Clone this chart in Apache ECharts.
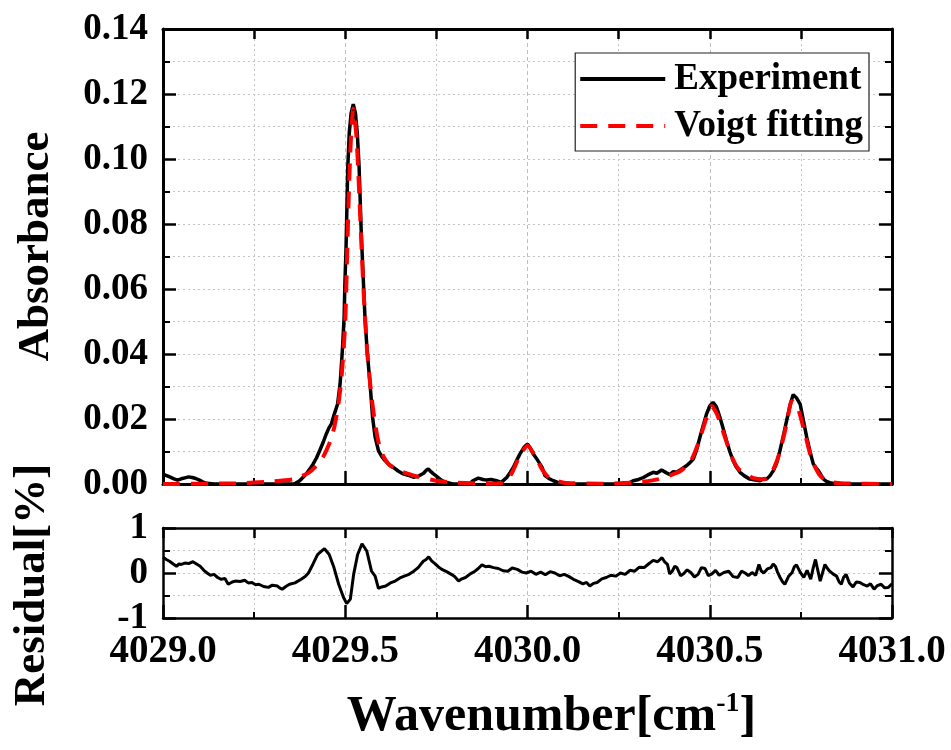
<!DOCTYPE html>
<html>
<head>
<meta charset="utf-8">
<script src="https://cdn.jsdelivr.net/npm/echarts@6/dist/echarts.min.js"></script>
<style>
html, body { margin: 0; padding: 0; background: #fff; }
#echarts { width: 951px; height: 750px; }
</style>
</head>
<body>
<div id="echarts"></div>
<script>
// measured spectrum [wavenumber, absorbance]
var experiment = [
    [4029.000, 0.0030], [4029.010, 0.0026], [4029.020, 0.0021], [4029.030, 0.0016], [4029.040, 0.0012],
    [4029.050, 0.0016], [4029.060, 0.0019], [4029.070, 0.0022], [4029.080, 0.0020], [4029.090, 0.0017],
    [4029.100, 0.0012], [4029.110, 0.0006], [4029.120, 0.0002], [4029.140, 0.0000], [4029.360, 0.0000],
    [4029.375, 0.0010], [4029.393, 0.0031], [4029.402, 0.0045], [4029.412, 0.0062], [4029.421, 0.0080],
    [4029.430, 0.0103], [4029.440, 0.0130], [4029.448, 0.0154], [4029.455, 0.0172], [4029.462, 0.0185],
    [4029.470, 0.0215], [4029.479, 0.0246], [4029.486, 0.0310], [4029.492, 0.0410], [4029.497, 0.0515],
    [4029.499, 0.0617], [4029.502, 0.0720], [4029.505, 0.0874], [4029.507, 0.0976], [4029.511, 0.1080],
    [4029.516, 0.1140], [4029.522, 0.1169], [4029.528, 0.1140], [4029.533, 0.1080], [4029.538, 0.0976],
    [4029.541, 0.0874], [4029.544, 0.0770], [4029.546, 0.0720], [4029.550, 0.0617], [4029.554, 0.0515],
    [4029.560, 0.0410], [4029.568, 0.0310], [4029.575, 0.0205], [4029.582, 0.0144], [4029.591, 0.0103],
    [4029.600, 0.0085], [4029.609, 0.0072], [4029.620, 0.0060], [4029.632, 0.0051], [4029.645, 0.0040],
    [4029.659, 0.0031], [4029.672, 0.0027], [4029.687, 0.0021], [4029.700, 0.0024], [4029.715, 0.0033],
    [4029.722, 0.0042], [4029.728, 0.0046], [4029.735, 0.0038], [4029.742, 0.0031], [4029.750, 0.0024],
    [4029.760, 0.0015], [4029.770, 0.0008], [4029.778, 0.0005], [4029.795, 0.0000], [4029.840, 0.0000],
    [4029.850, 0.0010], [4029.865, 0.0018], [4029.878, 0.0014], [4029.888, 0.0012], [4029.900, 0.0014],
    [4029.915, 0.0010], [4029.928, 0.0005], [4029.935, 0.0012], [4029.943, 0.0020], [4029.952, 0.0035],
    [4029.961, 0.0051], [4029.970, 0.0072], [4029.979, 0.0092], [4029.990, 0.0112], [4030.000, 0.0123],
    [4030.008, 0.0110], [4030.016, 0.0092], [4030.025, 0.0078], [4030.034, 0.0062], [4030.040, 0.0051],
    [4030.048, 0.0026], [4030.060, 0.0016], [4030.071, 0.0010], [4030.085, 0.0004], [4030.098, 0.0000],
    [4030.272, 0.0000], [4030.290, 0.0010], [4030.305, 0.0014], [4030.318, 0.0020], [4030.330, 0.0028],
    [4030.345, 0.0036], [4030.355, 0.0033], [4030.368, 0.0043], [4030.380, 0.0035], [4030.391, 0.0029],
    [4030.400, 0.0038], [4030.409, 0.0036], [4030.420, 0.0044], [4030.436, 0.0056], [4030.445, 0.0065],
    [4030.455, 0.0077], [4030.464, 0.0105], [4030.473, 0.0144], [4030.482, 0.0180], [4030.491, 0.0215],
    [4030.500, 0.0240], [4030.509, 0.0251], [4030.518, 0.0238], [4030.528, 0.0205], [4030.537, 0.0170],
    [4030.546, 0.0133], [4030.555, 0.0100], [4030.564, 0.0072], [4030.573, 0.0052], [4030.583, 0.0036],
    [4030.595, 0.0025], [4030.610, 0.0015], [4030.625, 0.0012], [4030.638, 0.0010], [4030.648, 0.0016],
    [4030.656, 0.0015], [4030.665, 0.0025], [4030.675, 0.0042], [4030.683, 0.0062], [4030.692, 0.0100],
    [4030.701, 0.0144], [4030.708, 0.0180], [4030.715, 0.0215], [4030.722, 0.0250], [4030.729, 0.0275],
    [4030.738, 0.0265], [4030.748, 0.0246], [4030.757, 0.0195], [4030.766, 0.0144], [4030.775, 0.0100],
    [4030.784, 0.0062], [4030.791, 0.0050], [4030.798, 0.0041], [4030.805, 0.0028], [4030.812, 0.0015],
    [4030.820, 0.0008], [4030.830, 0.0004], [4030.848, 0.0000], [4031.000, 0.0000]
];

// Voigt fit [wavenumber, absorbance]
var voigt = [
    [4029.000, 0.0000], [4029.200, 0.0002], [4029.300, 0.0008], [4029.360, 0.0015], [4029.400, 0.0035],
    [4029.420, 0.0055], [4029.440, 0.0085], [4029.460, 0.0135], [4029.470, 0.0175], [4029.480, 0.0235],
    [4029.490, 0.0330], [4029.500, 0.0500], [4029.505, 0.0700], [4029.510, 0.0900], [4029.515, 0.1050],
    [4029.522, 0.1155], [4029.530, 0.1080], [4029.535, 0.0980], [4029.540, 0.0850], [4029.545, 0.0720],
    [4029.550, 0.0600], [4029.555, 0.0500], [4029.560, 0.0410], [4029.570, 0.0290], [4029.580, 0.0200],
    [4029.590, 0.0135], [4029.600, 0.0095], [4029.620, 0.0060], [4029.650, 0.0040], [4029.700, 0.0022],
    [4029.750, 0.0010], [4029.800, 0.0004], [4029.900, 0.0001], [4029.940, 0.0006], [4029.960, 0.0040],
    [4029.980, 0.0090], [4030.000, 0.0118], [4030.020, 0.0088], [4030.040, 0.0045], [4030.060, 0.0018],
    [4030.100, 0.0004], [4030.200, 0.0001], [4030.300, 0.0005], [4030.360, 0.0015], [4030.420, 0.0040],
    [4030.450, 0.0075], [4030.470, 0.0130], [4030.490, 0.0200], [4030.505, 0.0240], [4030.520, 0.0215],
    [4030.540, 0.0150], [4030.560, 0.0085], [4030.580, 0.0045], [4030.620, 0.0018], [4030.650, 0.0015],
    [4030.670, 0.0035], [4030.690, 0.0090], [4030.710, 0.0180], [4030.725, 0.0255], [4030.740, 0.0240],
    [4030.760, 0.0160], [4030.780, 0.0075], [4030.800, 0.0030], [4030.820, 0.0010], [4030.860, 0.0002],
    [4031.000, 0.0000]
];

// residual [%] as [wavenumber, value]
var residual = [
    [4029.000, 0.35], [4029.009, 0.30], [4029.018, 0.26], [4029.028, 0.20], [4029.037, 0.15], [4029.044, 0.20],
    [4029.050, 0.19], [4029.060, 0.22], [4029.070, 0.21], [4029.082, 0.25], [4029.092, 0.20], [4029.102, 0.15],
    [4029.112, 0.06], [4029.121, 0.00], [4029.130, -0.05], [4029.140, -0.03], [4029.150, -0.10], [4029.160, -0.14],
    [4029.170, -0.12], [4029.179, -0.25], [4029.190, -0.20], [4029.198, -0.18], [4029.212, -0.19], [4029.224, -0.16],
    [4029.234, -0.22], [4029.244, -0.21], [4029.254, -0.26], [4029.263, -0.25], [4029.276, -0.30], [4029.289, -0.32],
    [4029.300, -0.27], [4029.314, -0.29], [4029.320, -0.33], [4029.327, -0.36], [4029.337, -0.30], [4029.347, -0.25],
    [4029.362, -0.22], [4029.379, -0.14], [4029.390, -0.08], [4029.399, 0.00], [4029.411, 0.19], [4029.424, 0.41],
    [4029.434, 0.48], [4029.443, 0.54], [4029.456, 0.41], [4029.469, 0.12], [4029.482, -0.25], [4029.495, -0.54],
    [4029.504, -0.68], [4029.514, -0.58], [4029.523, -0.03], [4029.534, 0.41], [4029.546, 0.65], [4029.559, 0.49],
    [4029.572, 0.04], [4029.582, -0.07], [4029.591, -0.34], [4029.600, -0.31], [4029.611, -0.29], [4029.624, -0.22],
    [4029.637, -0.18], [4029.650, -0.11], [4029.662, -0.07], [4029.675, -0.03], [4029.688, 0.04], [4029.700, 0.12],
    [4029.714, 0.26], [4029.722, 0.30], [4029.729, 0.36], [4029.737, 0.27], [4029.746, 0.21], [4029.755, 0.14],
    [4029.765, 0.08], [4029.778, 0.03], [4029.791, -0.03], [4029.800, -0.08], [4029.811, -0.18], [4029.820, -0.13],
    [4029.830, -0.10], [4029.843, -0.02], [4029.856, 0.04], [4029.865, 0.10], [4029.875, 0.18], [4029.885, 0.14],
    [4029.894, 0.15], [4029.907, 0.12], [4029.920, 0.10], [4029.933, 0.05], [4029.946, 0.04], [4029.958, 0.11],
    [4029.972, 0.08], [4029.985, 0.02], [4029.997, 0.00], [4030.010, 0.04], [4030.023, -0.03], [4030.036, 0.02],
    [4030.049, -0.04], [4030.062, 0.03], [4030.075, 0.00], [4030.088, -0.06], [4030.101, -0.03], [4030.114, -0.08],
    [4030.126, -0.14], [4030.140, -0.19], [4030.152, -0.24], [4030.162, -0.21], [4030.171, -0.29], [4030.181, -0.23],
    [4030.191, -0.21], [4030.204, -0.13], [4030.216, -0.10], [4030.229, -0.05], [4030.242, -0.07], [4030.255, 0.00],
    [4030.268, -0.03], [4030.281, 0.06], [4030.294, 0.04], [4030.307, 0.13], [4030.320, 0.12], [4030.332, 0.20],
    [4030.345, 0.28], [4030.357, 0.25], [4030.369, 0.34], [4030.377, 0.24], [4030.384, 0.19], [4030.390, -0.02],
    [4030.397, 0.04], [4030.404, 0.15], [4030.410, 0.12], [4030.420, -0.06], [4030.429, -0.01], [4030.438, 0.07],
    [4030.448, 0.01], [4030.458, -0.09], [4030.468, -0.03], [4030.477, 0.12], [4030.487, 0.10], [4030.496, -0.06],
    [4030.506, -0.02], [4030.516, 0.06], [4030.526, -0.05], [4030.539, 0.01], [4030.552, 0.04], [4030.564, -0.08],
    [4030.577, -0.10], [4030.587, 0.04], [4030.597, 0.00], [4030.606, -0.06], [4030.616, 0.01], [4030.626, -0.05],
    [4030.635, 0.19], [4030.641, 0.05], [4030.648, 0.00], [4030.658, 0.09], [4030.668, 0.12], [4030.674, 0.20],
    [4030.680, 0.15], [4030.686, 0.02], [4030.693, -0.10], [4030.700, -0.20], [4030.706, -0.25], [4030.716, -0.08],
    [4030.726, 0.01], [4030.732, 0.14], [4030.738, 0.18], [4030.748, 0.02], [4030.758, -0.10], [4030.767, 0.06],
    [4030.777, -0.14], [4030.784, 0.12], [4030.790, 0.30], [4030.797, 0.04], [4030.803, -0.18], [4030.810, 0.02],
    [4030.816, 0.19], [4030.823, 0.10], [4030.829, 0.04], [4030.838, -0.02], [4030.848, -0.07], [4030.855, -0.20],
    [4030.861, -0.25], [4030.867, -0.10], [4030.874, -0.03], [4030.883, -0.22], [4030.893, -0.31], [4030.902, -0.20],
    [4030.912, -0.21], [4030.922, -0.26], [4030.932, -0.29], [4030.941, -0.24], [4030.951, -0.36], [4030.960, -0.28],
    [4030.970, -0.25], [4030.980, -0.33], [4030.990, -0.32], [4031.000, -0.24]
];

var seriesNames = ['Experiment', 'Voigt fitting'];

var FONT = "'Liberation Serif', 'Times New Roman', serif";
var gridLine = { show: true, lineStyle: { color: '#c4c4c4', width: 1, type: [2, 3] } };
var gridLineMajor = { show: true, lineStyle: { color: '#bdbdbd', width: 1, type: [4, 3] } };

function xAx(grid, pos, withLabel) {
    var bottom = pos === 'bottom';
    return {
        type: 'value', gridIndex: grid, position: pos,
        min: 4029, max: 4031, interval: bottom ? 0.5 : 0.25,
        axisLine: { show: true, onZero: false, lineStyle: { color: '#000', width: grid === 0 ? 3 : 2.5 } },
        axisTick: { show: true, inside: true, length: bottom ? 13 : 10, lineStyle: { color: '#000', width: 2.5 } },
        minorTick: { show: bottom, splitNumber: 2, length: 6, lineStyle: { color: '#000', width: 2 } },
        splitLine: bottom ? gridLineMajor : { show: false },
        minorSplitLine: bottom ? gridLine : { show: false },
        axisLabel: withLabel ? {
            show: true, margin: 14, color: '#000', fontFamily: FONT, fontWeight: 'bold', fontSize: 39,
            formatter: function (v) { return v.toFixed(1); }
        } : { show: false },
        name: withLabel ? '{a|Wavenumber[cm}{s|-1}{a|]}' : '',
        nameLocation: 'middle', nameGap: 72,
        nameTextStyle: {
            padding: [0, 0, 0, 48],
            rich: {
                a: { fontFamily: FONT, fontWeight: 'bold', fontSize: 50, color: '#000', lineHeight: 54 },
                s: { fontFamily: FONT, fontWeight: 'bold', fontSize: 28, color: '#000', verticalAlign: 'top', lineHeight: 54, padding: [0, 0, 24, 0] }
            }
        }
    };
}

function yAx(grid, pos, min, max, interval, digits, name, pad) {
    var left = pos === 'left';
    return {
        type: 'value', gridIndex: grid, position: pos,
        min: min, max: max, interval: interval,
        axisLine: { show: true, onZero: false, lineStyle: { color: '#000', width: grid === 0 ? 3 : 2.5 } },
        axisTick: { show: true, inside: true, length: 13, lineStyle: { color: '#000', width: 2.5 } },
        minorTick: { show: true, splitNumber: 2, length: 7, lineStyle: { color: '#000', width: 2 } },
        splitLine: left ? gridLine : { show: false },
        minorSplitLine: left ? gridLine : { show: false },
        axisLabel: left ? {
            show: true, margin: 15, color: '#000', fontFamily: FONT, fontWeight: 'bold', fontSize: 37,
            formatter: function (v) { return v.toFixed(digits); }
        } : { show: false },
        name: left ? name : '',
        nameLocation: 'middle', nameRotate: 90, nameGap: grid === 0 ? 104 : 108,
        nameTextStyle: { fontFamily: FONT, fontWeight: 'bold', fontSize: 45, color: '#000', padding: pad || 0 }
    };
}

var option = {
    animation: false,
    backgroundColor: '#fff',
    grid: [
        { left: 163, right: 59, top: 29, height: 455 },
        { left: 163, right: 59, top: 528, height: 90 }
    ],
    legend: {
        data: seriesNames,
        orient: 'vertical',
        right: 82, top: 53,
        backgroundColor: '#fff',
        borderColor: '#222', borderWidth: 1.2, borderRadius: 0,
        padding: [6, 6, 5, 3],
        itemWidth: 85, itemHeight: 14, itemGap: 7,
        itemStyle: { opacity: 0 },
        lineStyle: { width: 4 },
        textStyle: { fontFamily: FONT, fontWeight: 'bold', fontSize: 37, color: '#000', lineHeight: 40, padding: [0, 0, 0, 4] }
    },
    xAxis: [xAx(0, 'bottom', false), xAx(0, 'top', false), xAx(1, 'bottom', true), xAx(1, 'top', false)],
    yAxis: [
        yAx(0, 'left', 0, 0.14, 0.02, 2, 'Absorbance', [0, 0, 0, 20]),
        yAx(0, 'right', 0, 0.14, 0.02, 2, ''),
        yAx(1, 'left', -1, 1, 1, 0, 'Residual[%]', [0, 24, 0, 0]),
        yAx(1, 'right', -1, 1, 1, 0, '')
    ],
    series: [
        {
            name: seriesNames[0], type: 'line', xAxisIndex: 0, yAxisIndex: 0,
            data: experiment, symbol: 'none', showSymbol: false,
            lineStyle: { color: '#000', width: 3.5 }, itemStyle: { color: '#000' }
        },
        {
            name: seriesNames[1], type: 'line', xAxisIndex: 0, yAxisIndex: 0,
            data: voigt, symbol: 'none', showSymbol: false, smooth: 0.2,
            lineStyle: { color: '#ff0000', width: 4, type: [17, 11] }, itemStyle: { color: '#ff0000' }
        },
        {
            name: 'Residual', type: 'line', xAxisIndex: 2, yAxisIndex: 2,
            data: residual, symbol: 'none', showSymbol: false,
            lineStyle: { color: '#000', width: 3 }
        }
    ]
};

var mychart = echarts.init(document.getElementById('echarts'));
mychart.setOption(option);
</script>
</body>
</html>
